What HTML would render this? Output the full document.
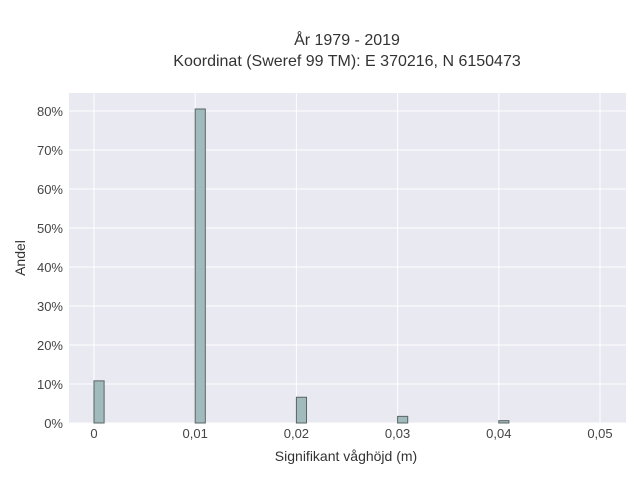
<!DOCTYPE html>
<html><head><meta charset="utf-8"><style>
body{margin:0;background:#fff;}
svg{display:block;font-family:"Liberation Sans",sans-serif;}
</style></head><body>
<svg id="chart" width="640" height="480">
<text x="347" y="45" text-anchor="middle" font-size="16" fill="#333">År 1979 - 2019</text>
<text x="347" y="66" text-anchor="middle" font-size="16" fill="#333">Koordinat (Sweref 99 TM): E 370216, N 6150473</text>
<rect x="69" y="93" width="557" height="330" fill="#e9e9f1"/>
<g id="grid"></g><g id="bars"></g><g id="ticks"></g>
<text x="346" y="461" text-anchor="middle" font-size="14" fill="#333">Signifikant våghöjd (m)</text>
<text transform="translate(25,258) rotate(-90)" text-anchor="middle" font-size="14" fill="#333">Andel</text>
</svg>
<script>
const binStarts=[0,0.01,0.02,0.03,0.04];
const shares=[10.8,80.5,6.6,1.7,0.6];
const xTicks=[0,0.01,0.02,0.03,0.04,0.05];
const xTickLabels=["0","0,01","0,02","0,03","0,04","0,05"];
const yTicks=[0,10,20,30,40,50,60,70,80];
const binWidth=0.001;
const NS="http://www.w3.org/2000/svg";
const X0=69,X1=626,Y0=423,Y1=93,xmin=-0.00247,xmax=0.05257,ymin=0,ymax=84.6;
const xs=v=>X0+(v-xmin)/(xmax-xmin)*(X1-X0);
const ys=v=>Y0-(v-ymin)/(ymax-ymin)*(Y0-Y1);
function mk(t,a,p){const e=document.createElementNS(NS,t);for(const k in a)e.setAttribute(k,a[k]);p.appendChild(e);return e;}
const grid=document.getElementById('grid'),bars=document.getElementById('bars'),ticks=document.getElementById('ticks');
xTicks.forEach((v,i)=>{
 const l=mk('line',{x1:xs(v),x2:xs(v),y1:Y1,y2:Y0,stroke:'#fff','stroke-width':1},grid);
 
 
 const t=mk('text',{x:xs(v),y:438,'text-anchor':'middle','font-size':13,fill:'#444'},ticks);
 t.textContent=xTickLabels[i];
 
 
});
yTicks.forEach(v=>{
 const l=mk('line',{x1:X0,x2:X1,y1:ys(v),y2:ys(v),stroke:'#fff','stroke-width':1},grid);
 
 
 const t=mk('text',{x:63,y:ys(v)+5,'text-anchor':'end','font-size':13,fill:'#444'},ticks);
 t.textContent=v+'%';
 
 
});
binStarts.forEach((b,i)=>{
 const r=mk('rect',{x:xs(b),y:ys(shares[i]),width:xs(b+binWidth)-xs(b),height:ys(0)-ys(shares[i]),fill:'#a1babb',stroke:'#5a6466','stroke-width':1},bars);
 
 
});
</script>
</body></html>
